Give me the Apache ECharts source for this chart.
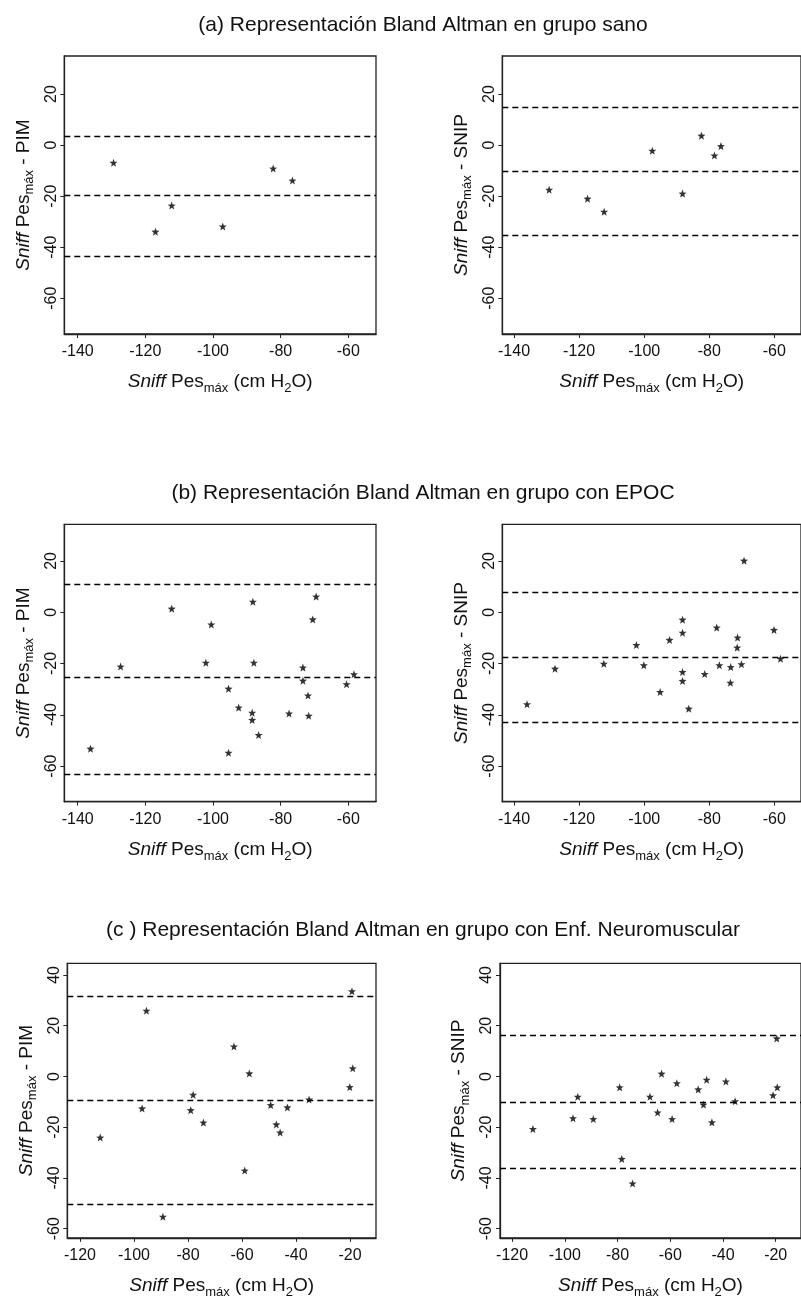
<!DOCTYPE html>
<html>
<head>
<meta charset="utf-8">
<script src="https://cdn.jsdelivr.net/npm/echarts@6/dist/echarts.min.js"></script>
<style>
  html, body { margin: 0; padding: 0; background: #fff; }
  #main { width: 801px; height: 1305px; }
</style>
</head>
<body>
<div id="main"></div>
<script>
// (a) grupo sano
var aPimX = [-129.4, -117.0, -112.2, -97.1, -82.2, -76.5];
var aPimY = [-6.9, -33.9, -23.7, -31.9, -9.2, -13.9];
var aPimLines = [3.5, -19.8, -43.4];
var aSnipX = [-129.2, -117.4, -112.3, -97.5, -88.2, -82.4, -78.4, -76.4];
var aSnipY = [-17.5, -21.0, -26.1, -2.2, -19.0, 3.7, -4.1, -0.4];
var aSnipLines = [14.9, -10.4, -35.5];

// (b) grupo con EPOC
var bPimX = [-136.2, -127.3, -112.2, -102.1, -100.5, -95.4, -95.4, -92.4, -88.4, -88.4, -88.2,
             -87.9, -86.5, -77.5, -73.4, -73.4, -71.9, -71.7, -70.5, -69.5, -60.5, -58.3];
var bPimY = [-53.2, -21.2, 1.4, -19.7, -4.8, -29.8, -54.8, -37.2, -39.2, -42.0, 4.1,
             -19.7, -47.9, -39.5, -21.6, -26.7, -32.5, -40.4, -2.8, 6.1, -28.1, -24.2];
var bPimLines = [10.9, -25.5, -63.0];
var bSnipX = [-136.0, -127.4, -112.4, -102.4, -100.1, -95.1, -92.2, -88.2, -88.2, -88.2, -88.2, -86.3,
              -81.4, -77.7, -76.9, -73.4, -73.5, -71.3, -71.4, -70.1, -69.3, -60.1, -58.1];
var bSnipY = [-35.9, -22.0, -20.1, -12.8, -20.7, -31.1, -10.8, -2.9, -8.0, -23.3, -26.8, -37.6,
              -24.1, -6.0, -20.7, -21.4, -27.5, -9.9, -13.8, -20.3, 20.1, -6.9, -18.1];
var bSnipLines = [7.8, -17.5, -43.0];

// (c) grupo con Enf. Neuromuscular
var cPimX = [-112.5, -97.0, -95.4, -89.3, -79.0, -78.1, -74.3, -63.0, -59.0, -57.3, -49.4, -47.3,
             -45.9, -43.2, -35.2, -20.1, -19.0, -19.3];
var cPimY = [-24.1, -12.6, 25.9, -55.3, -13.3, -7.2, -18.2, 11.8, -37.1, 1.2, -11.3, -18.9,
             -22.1, -12.2, -9.1, -4.2, 3.2, 33.6];
var cPimLines = [31.8, -9.2, -50.4];
var cSnipX = [-112.1, -96.9, -95.1, -89.2, -79.2, -78.4, -74.3, -67.7, -64.8, -63.3, -59.3, -57.5,
              -49.4, -47.4, -46.2, -44.2, -38.9, -35.4, -21.0, -19.4, -19.6];
var cSnipY = [-20.7, -16.5, -8.0, -16.8, -4.3, -32.5, -42.2, -8.0, -14.2, 1.1, -16.8, -2.7,
              -5.1, -11.1, -1.3, -18.1, -2.0, -9.8, -7.4, -4.3, 15.0];
var cSnipLines = [16.2, -10.1, -36.3];

// tick labels
var xTicksAB = [-140, -120, -100, -80, -60];
var yTicksAB = [-60, -40, -20, 0, 20];
var xTicksC = [-120, -100, -80, -60, -40, -20];
var yTicksC = [-60, -40, -20, 0, 20, 40];

var titles = [
    '(a) Representación Bland Altman en grupo sano',
    '(b) Representación Bland Altman en grupo con EPOC',
    '(c ) Representación Bland Altman en grupo con Enf. Neuromuscular'
];

var FONT = '"Liberation Sans", Arial, Helvetica, sans-serif';

// asterisk-like star marker
function starPath(n, ro, ri) {
    var d = '';
    for (var k = 0; k < n * 2; k++) {
        var r = k % 2 ? ri : ro;
        var a = -Math.PI / 2 + k * Math.PI / n;
        d += (k ? 'L' : 'M') + (r * Math.cos(a)).toFixed(2) + ' ' + (r * Math.sin(a)).toFixed(2);
    }
    return 'path://' + d + 'Z';
}
var STAR = starPath(5, 10, 4.2);

var panels = [
    {xs: aPimX, ys: aPimY, lines: aPimLines, yn: 'PIM', grid: {left: 64.3, top: 56, width: 311.7, height: 278},
     x: [-143.95, -51.8], y: [-74, 34.9], xt: xTicksAB, yt: yTicksAB},
    {xs: aSnipX, ys: aSnipY, lines: aSnipLines, yn: 'SNIP', grid: {left: 502.3, top: 56, width: 309.1, height: 278},
     x: [-143.6, -51.8], y: [-74, 34.9], xt: xTicksAB, yt: yTicksAB},
    {xs: bPimX, ys: bPimY, lines: bPimLines, yn: 'PIM', grid: {left: 64.3, top: 524.3, width: 311.7, height: 277.4},
     x: [-143.95, -51.8], y: [-73.9, 34.3], xt: xTicksAB, yt: yTicksAB},
    {xs: bSnipX, ys: bSnipY, lines: bSnipLines, yn: 'SNIP', grid: {left: 502.3, top: 524.3, width: 309.1, height: 277.4},
     x: [-143.6, -51.8], y: [-73.9, 34.3], xt: xTicksAB, yt: yTicksAB},
    {xs: cPimX, ys: cPimY, lines: cPimLines, yn: 'PIM', grid: {left: 67.3, top: 963.3, width: 308.7, height: 274.5},
     x: [-124.7, -10.4], y: [-63.6, 44.6], xt: xTicksC, yt: yTicksC},
    {xs: cSnipX, ys: cSnipY, lines: cSnipLines, yn: 'SNIP', grid: {left: 500, top: 963.3, width: 313, height: 274.5},
     x: [-124.6, -10.4], y: [-63.6, 44.6], xt: xTicksC, yt: yTicksC}
];

var richName = {
    i: {fontStyle: 'italic', fontSize: 19, lineHeight: 26, fontFamily: FONT, color: '#111'},
    n: {fontSize: 19, lineHeight: 26, fontFamily: FONT, color: '#111'},
    s: {fontSize: 13, lineHeight: 12, verticalAlign: 'bottom', fontFamily: FONT, color: '#111'}
};

var option = {
    animation: false,
    backgroundColor: '#fff',
    grid: [], xAxis: [], yAxis: [], series: [],
    graphic: titles.map(function (t, k) {
        return {
            type: 'text', x: 423, y: [25, 493, 930][k],
            style: {text: t, font: '21px ' + FONT, fill: '#111',
                    align: 'center', verticalAlign: 'middle', textAlign: 'center', textVerticalAlign: 'middle'}
        };
    })
};

panels.forEach(function (p, i) {
    option.grid.push({
        left: p.grid.left, top: p.grid.top, width: p.grid.width, height: p.grid.height,
        show: true, borderColor: '#222', borderWidth: 1.3, containLabel: false
    });
    option.xAxis.push({
        gridIndex: i, type: 'value', min: p.x[0], max: p.x[1],
        axisLine: {show: true, onZero: false, lineStyle: {color: '#222', width: 1.3}},
        axisTick: {show: true, length: 4, customValues: p.xt, lineStyle: {color: '#222', width: 1}},
        axisLabel: {customValues: p.xt, margin: 10, color: '#111', fontSize: 16, fontFamily: FONT},
        splitLine: {show: false},
        name: '{i|Sniff }{n|Pes}{s|máx}{n| (cm H}{s|2}{n|O)}',
        nameLocation: 'middle', nameGap: 35,
        nameTextStyle: {fontSize: 19, fontFamily: FONT, rich: richName}
    });
    option.yAxis.push({
        gridIndex: i, type: 'value', min: p.y[0], max: p.y[1],
        axisLine: {show: true, onZero: false, lineStyle: {color: '#222', width: 1.3}},
        axisTick: {show: true, length: 4, customValues: p.yt, lineStyle: {color: '#222', width: 1}},
        axisLabel: {customValues: p.yt, rotate: 90, margin: 5, color: '#111', fontSize: 16, fontFamily: FONT},
        splitLine: {show: false},
        name: '{i|Sniff }{n|Pes}{s|máx}{n| - ' + p.yn + '}',
        nameLocation: 'middle', nameRotate: 90, nameGap: 28,
        nameTextStyle: {fontSize: 19, fontFamily: FONT, rich: richName}
    });
    option.series.push({
        type: 'scatter', xAxisIndex: i, yAxisIndex: i,
        data: p.xs.map(function (x, k) { return [x, p.ys[k]]; }),
        symbol: STAR, symbolSize: 8,
        itemStyle: {color: '#000'},
        markLine: {
            silent: true, symbol: 'none', label: {show: false},
            lineStyle: {type: [6, 4], color: '#000', width: 1.3},
            data: p.lines.map(function (v) { return {yAxis: v}; })
        }
    });
});

var myChart = echarts.init(document.getElementById('main'), null, {renderer: 'canvas'});
myChart.setOption(option);
</script>
</body>
</html>
